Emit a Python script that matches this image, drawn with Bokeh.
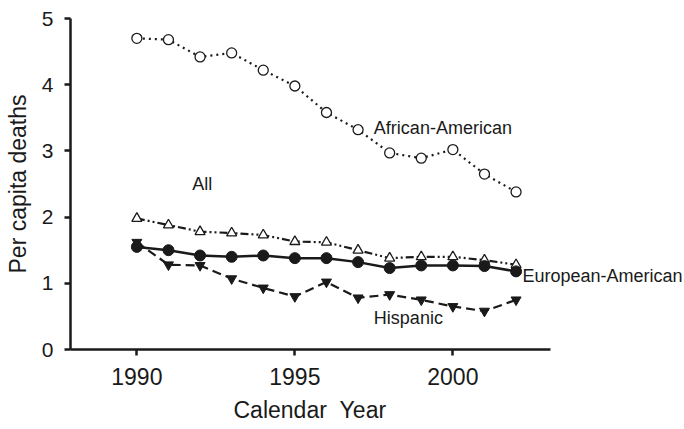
from bokeh.plotting import figure
from bokeh.models import Range1d, FixedTicker, Label, Title
from bokeh.embed import file_html
from bokeh.resources import INLINE

years = list(range(1990, 2003))
african_american = [4.70, 4.68, 4.42, 4.48, 4.22, 3.98, 3.58, 3.32, 2.97, 2.89, 3.02, 2.65, 2.38]
all_groups = [1.98, 1.88, 1.78, 1.76, 1.73, 1.63, 1.62, 1.50, 1.38, 1.40, 1.40, 1.35, 1.28]
european_american = [1.55, 1.50, 1.42, 1.40, 1.42, 1.38, 1.38, 1.32, 1.23, 1.27, 1.27, 1.26, 1.18]
hispanic = [1.62, 1.28, 1.27, 1.07, 0.93, 0.80, 1.02, 0.78, 0.83, 0.75, 0.65, 0.58, 0.75]

x_ticks = [1990, 1995, 2000]
y_ticks = [0, 1, 2, 3, 4, 5]

FONT = "Liberation Sans"
INK = "#1a1a1a"

# The frame runs to the right edge so the series labels are not clipped;
# the x axis line itself stops at its bounds.
p = figure(width=684, height=429, output_backend="svg", toolbar_location=None,
           x_range=Range1d(1987.9, 2007.33), y_range=Range1d(0, 5.0),
           min_border_left=70, min_border_right=0, min_border_top=18, min_border_bottom=79)
p.outline_line_color = None
p.grid.grid_line_color = None
p.background_fill_color = "white"
p.border_fill_color = "white"

for ax in (p.xaxis[0], p.yaxis[0]):
    ax.axis_line_width = 2.5
    ax.axis_line_color = INK
    ax.major_tick_line_width = 2.5
    ax.major_tick_line_color = INK
    ax.major_tick_in = 0
    ax.major_tick_out = 6
    ax.minor_tick_line_color = None
    ax.major_label_text_font = FONT
    ax.major_label_text_color = INK
    ax.axis_label_text_font = FONT
    ax.axis_label_text_font_size = "23px"
    ax.axis_label_text_font_style = "normal"
    ax.axis_label_text_color = INK

p.xaxis.bounds = (1987.85, 2003.1)
p.xaxis.ticker = FixedTicker(ticks=x_ticks)
p.yaxis.ticker = FixedTicker(ticks=y_ticks)
p.xaxis.major_label_text_font_size = "23px"
p.yaxis.major_label_text_font_size = "21px"
p.xaxis.major_label_standoff = 12
p.yaxis.major_label_standoff = 11
p.yaxis.axis_label = "Per capita deaths"
p.yaxis.axis_label_standoff = 8

# x axis title, centred under the bounded axis line rather than the whole frame
p.add_layout(Title(text="Calendar\u00a0\u00a0Year", align="left", offset=163,
                   text_font=FONT, text_font_size="23px", text_font_style="normal",
                   text_color=INK, standoff=14), "below")

# African-American: dotted line, open circles
p.line(years, african_american, line_color=INK, line_width=2.2, line_dash="2 4")
p.scatter(years, african_american, marker="circle", size=10, fill_color="white",
          line_color=INK, line_width=1.3)

# All: dash-dot-dot line, open triangles
p.line(years, all_groups, line_color=INK, line_width=2.2, line_dash="8 3 2 3 2 3")
p.scatter(years, all_groups, marker="triangle", size=10, fill_color="white",
          line_color=INK, line_width=1.3)

# Hispanic: dashed line, filled inverted triangles
p.line(years, hispanic, line_color=INK, line_width=2.2, line_dash="9 5")
p.scatter(years, hispanic, marker="inverted_triangle", size=10, fill_color=INK,
          line_color=INK)

# European-American: solid line, filled circles
p.line(years, european_american, line_color=INK, line_width=2.5)
p.scatter(years, european_american, marker="circle", size=11, fill_color=INK,
          line_color=INK)

labels = [
    ("African-American", 1997.5, 3.34),
    ("All", 1991.75, 2.50),
    ("European-American", 2002.2, 1.11),
    ("Hispanic", 1997.5, 0.48),
]
for txt, lx, ly in labels:
    p.add_layout(Label(x=lx, y=ly, text=txt, text_font=FONT, text_font_size="18px",
                       text_color=INK, text_baseline="middle", text_align="left"))

open("out.html", "w").write(file_html(p, INLINE))
